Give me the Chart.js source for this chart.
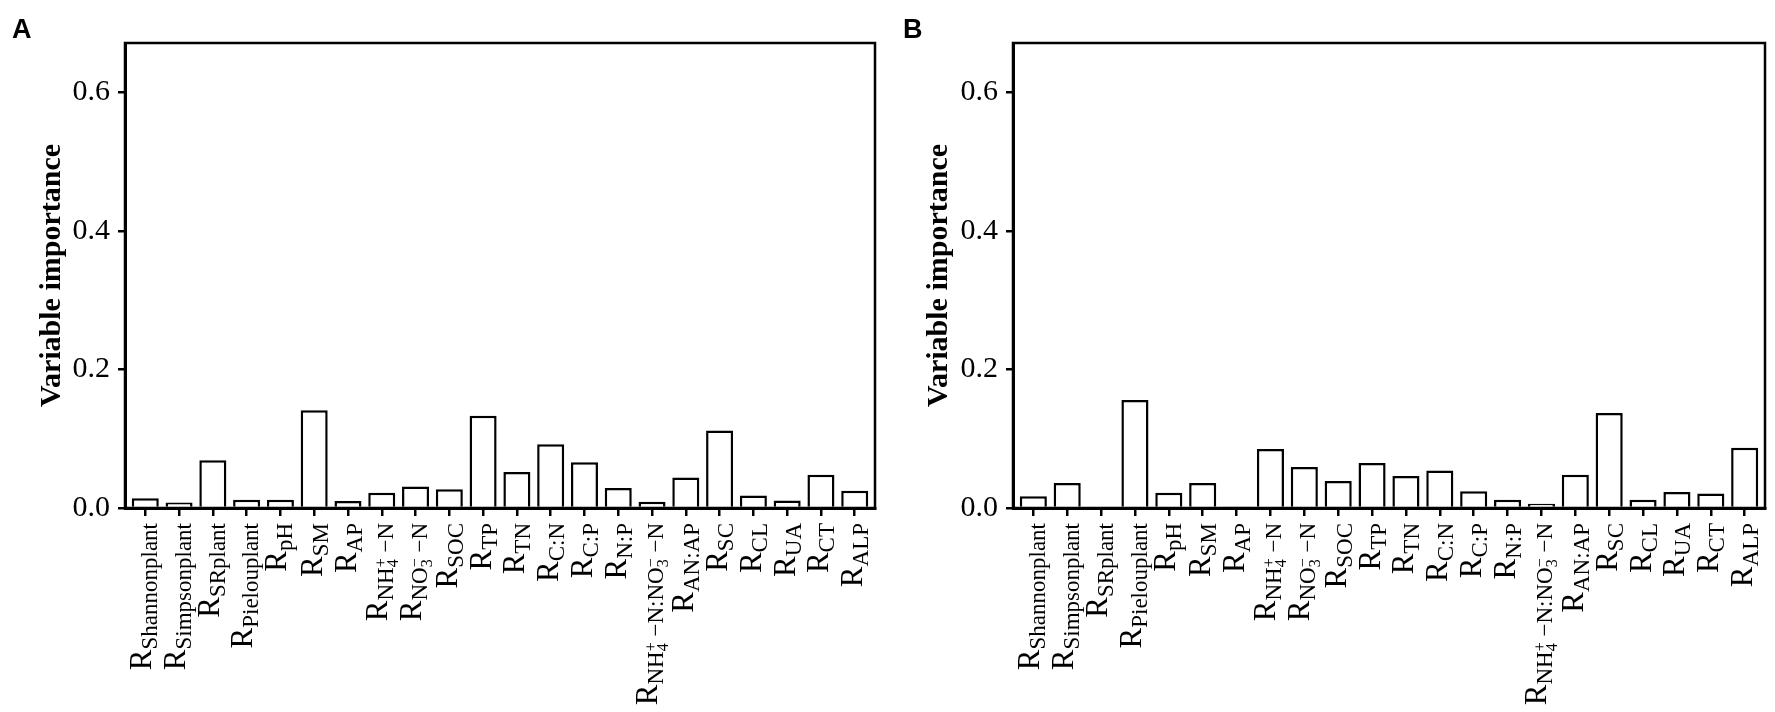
<!DOCTYPE html>
<html><head><meta charset="utf-8">
<script src="https://cdn.jsdelivr.net/npm/chart.js@4.4.1/dist/chart.umd.min.js"></script>
<style>
html,body{margin:0;padding:0;background:#fff;}
body{width:1775px;height:712px;overflow:hidden;position:relative;}
canvas{position:absolute;top:0;}
</style>
</head><body>
<canvas id="cA" width="887" height="712" style="left:0px"></canvas>
<canvas id="cB" width="888" height="712" style="left:887px"></canvas>
<script>
// ---- data ----
const categories = ['Shannonplant','Simpsonplant','SRplant','Pielouplant','pH','SM','AP','NH{4|+} \u2212N','NO{3|\u2212} \u2212N','SOC','TP','TN','C:N','C:P','N:P','NH{4|+} \u2212N:NO{3|\u2212} \u2212N','AN:AP','SC','CL','UA','CT','ALP'];
const importanceA = [0.014,0.008,0.069,0.012,0.012,0.141,0.010,0.022,0.031,0.027,0.133,0.052,0.092,0.066,0.029,0.009,0.044,0.112,0.018,0.011,0.048,0.025];
const importanceB = [0.017,0.036,0,0.156,0.022,0.036,0.0015,0.085,0.059,0.039,0.065,0.046,0.054,0.024,0.012,0.006,0.048,0.137,0.012,0.023,0.021,0.087];
const yTicks = [0, 0.2, 0.4, 0.6];
const yMax = 0.671;
const yTitle = 'Variable importance';
const panelLetters = ['A', 'B'];

// ---- rich x labels ----
const SERIF = '"Liberation Serif", "Times New Roman", serif';
const MAIN = 31, SUB = 23, TINY = 16, SUBDY = 6;
function parseLabel(s){
  const segs=[]; const re=/\{([^|}]*)\|([^}]*)\}/g; let last=0, m;
  while((m=re.exec(s))){ if(m.index>last) segs.push({t:s.slice(last,m.index)}); segs.push({sub:m[1],sup:m[2]}); last=re.lastIndex; }
  if(last<s.length) segs.push({t:s.slice(last)});
  return segs;
}
function drawRich(ctx, label, cx, top){
  const parts=[{t:'R', size:MAIN, dy:0}];
  parseLabel(label).forEach(p=>{
    if(p.t!==undefined) parts.push({t:p.t, size:SUB, dy:SUBDY});
    else parts.push({stack:true, sub:p.sub, sup:p.sup});
  });
  let total=0, minTop=Infinity, maxBot=-Infinity;
  parts.forEach(p=>{
    if(p.stack){
      ctx.font = TINY+'px '+SERIF;
      p.w = Math.max(ctx.measureText(p.sub).width, ctx.measureText(p.sup).width);
      p.subY = SUBDY+5; p.supY = SUBDY-7;
      minTop = Math.min(minTop, p.supY-0.68*TINY); maxBot = Math.max(maxBot, p.subY);
    } else {
      ctx.font = p.size+'px '+SERIF;
      p.w = ctx.measureText(p.t).width;
      minTop = Math.min(minTop, p.dy-0.68*p.size);
      maxBot = Math.max(maxBot, p.dy + (/[pgqyj]/.test(p.t) ? 0.15*p.size : 0));
    }
    total += p.w;
  });
  const base = -(minTop+maxBot)/2;
  ctx.save();
  ctx.translate(cx, top);
  ctx.rotate(-Math.PI/2);
  ctx.fillStyle = '#000'; ctx.textBaseline = 'alphabetic'; ctx.textAlign = 'left';
  let x = -total;
  parts.forEach(p=>{
    if(p.stack){
      ctx.font = TINY+'px '+SERIF;
      ctx.fillText(p.sup, x, base+p.supY);
      ctx.fillText(p.sub, x, base+p.subY);
    } else {
      ctx.font = p.size+'px '+SERIF;
      ctx.fillText(p.t, x, base+p.dy);
    }
    x += p.w;
  });
  ctx.restore();
}

const decor = {
  id: 'decor',
  afterDraw(chart, args, opts){
    const ctx = chart.ctx, a = chart.chartArea, xs = chart.scales.x;
    ctx.save();
    ctx.strokeStyle = '#000'; ctx.lineWidth = 2.5;
    ctx.strokeRect(a.left, a.top, a.right-a.left, a.bottom-a.top);
    ctx.restore();
    categories.forEach((lab,i)=> drawRich(ctx, lab, xs.getPixelForValue(i), a.bottom+15));
    ctx.save();
    ctx.fillStyle = '#000';
    ctx.font = 'bold 27px "Liberation Sans", Arial, sans-serif';
    ctx.textBaseline = 'alphabetic'; ctx.textAlign = 'left';
    ctx.fillText(opts.letter, opts.letterX, 38);
    ctx.restore();
  }
};

function makeChart(id, values, yWidth, padRight, letter, letterX){
  const ctx = document.getElementById(id).getContext('2d');
  return new Chart(ctx, {
    type: 'bar',
    data: {
      datasets: [{
        data: values.map((v,i)=>({x:i, y:v})),
        backgroundColor: '#ffffff',
        borderColor: '#000000',
        borderWidth: 2.5,
        categoryPercentage: 1.0,
        barPercentage: 0.8
      }]
    },
    options: {
      responsive: false,
      animation: false,
      devicePixelRatio: 1,
      layout: { padding: { top: 43, right: padRight, left: 0, bottom: 0 } },
      plugins: {
        legend: { display: false },
        tooltip: { enabled: false },
        decor: { letter: letter, letterX: letterX }
      },
      scales: {
        x: {
          type: 'linear',
          min: -0.6, max: categories.length - 1 + 0.6,
          offset: false,
          afterBuildTicks: (s) => { s.ticks = categories.map((c,i)=>({value:i})); },
          afterFit: (s) => { s.height = 204; },
          ticks: { display: false },
          grid: { drawOnChartArea: false, drawTicks: true, tickLength: 8, color: '#000', lineWidth: 2.5, offset: false },
          border: { display: true, color: '#000', width: 3, z: 1 }
        },
        y: {
          min: 0, max: yMax,
          afterBuildTicks: (s) => { s.ticks = yTicks.map(v=>({value:v})); },
          afterFit: (s) => { s.width = yWidth; },
          ticks: {
            color: '#000', padding: 8,
            font: { family: SERIF, size: 30 },
            callback: (v) => Number(v).toFixed(1)
          },
          grid: { drawOnChartArea: false, drawTicks: true, tickLength: 7, color: '#000', lineWidth: 2.5 },
          border: { display: true, color: '#000', width: 3, z: 1 },
          title: {
            display: true, text: yTitle, color: '#000',
            font: { family: SERIF, size: 30, weight: 'bold', lineHeight: 1.2 },
            padding: { top: 34, bottom: 0 }
          }
        }
      }
    },
    plugins: [decor]
  });
}

makeChart('cA', importanceA, 125, 12, panelLetters[0], 12);
makeChart('cB', importanceB, 126, 10, panelLetters[1], 16);
</script>
</body></html>
